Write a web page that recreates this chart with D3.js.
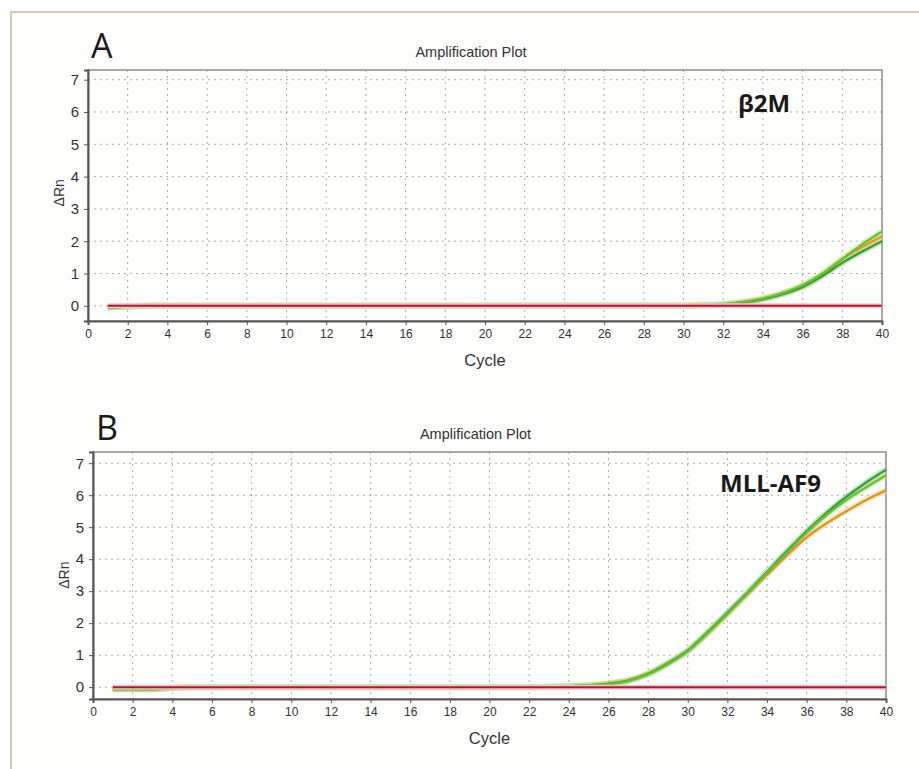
<!DOCTYPE html>
<html>
<head>
<meta charset="utf-8">
<script src="https://cdn.jsdelivr.net/npm/d3@7"></script>
<style>
  body { margin: 0; background: #fff; }
  .tick text { font-family: "Liberation Sans", Arial, sans-serif; fill: #333; }
</style>
</head>
<body>
<div id="graph"></div>
<script>
const cycles = d3.range(1, 41);
const xTicks = d3.range(0, 41, 2);
const yTicks = [0, 1, 2, 3, 4, 5, 6, 7];

// panel A, b2M
const a_green1 = [-0.05,-0.02,0,0,0,0,0,0,0,0, 0,0,0,0,0,0,0,0,0,0, 0,0,0,0,0,0,0,0,0,0, 0.01,0.05,0.12,0.23,0.40,0.64,1.00,1.45,1.90,2.30];
const a_orange = [-0.05,-0.02,0,0,0,0,0,0,0,0, 0,0,0,0,0,0,0,0,0,0.01, 0.01,0.01,0.01,0.01,0.01,0.01,0.01,0.01,0.01,0.02, 0.03,0.05,0.12,0.22,0.38,0.62,0.98,1.45,1.82,2.15];
const a_green2 = [-0.05,-0.02,0,0,0,0,0,0,0,0, 0,0,0,0,0,0,0,0,0,0, 0,0,0,0,0,0,0,0,0,0, 0.01,0.04,0.10,0.20,0.36,0.58,0.92,1.33,1.68,2.00];

// panel B, MLL-AF9
const b_green1 = [-0.06,-0.06,-0.06,-0.02,0,0,0,0,0,0, 0,0,0,0,0,0,0,0,0,0, 0,0,0.01,0.02,0.05,0.10,0.20,0.42,0.75,1.15, 1.72,2.33,2.95,3.60,4.25,4.88,5.45,5.95,6.40,6.80];
const b_green2 = [-0.06,-0.06,-0.06,-0.02,0,0,0,0,0,0, 0,0,0,0,0,0,0,0,0,0, 0,0,0.01,0.02,0.05,0.10,0.19,0.40,0.72,1.12, 1.68,2.30,2.92,3.57,4.20,4.83,5.38,5.85,6.25,6.62];
const b_orange = [-0.07,-0.07,-0.07,-0.03,0,0,0,0,0,0, 0,0,0,0,0,0,0,0,0,0, 0,0,0.01,0.03,0.06,0.12,0.22,0.42,0.75,1.13, 1.68,2.28,2.90,3.52,4.12,4.68,5.12,5.50,5.85,6.15];

const threshold = 0;

const width = 919, height = 769;
const font = '"Liberation Sans", Arial, sans-serif';

let svg = d3.select("#graph").append("svg")
  .attr("width", width)
  .attr("height", height);

// outer frame
svg.append("rect")
  .attr("x", 11).attr("y", 12)
  .attr("width", width + 10).attr("height", height + 10)
  .attr("fill", "#fefefd")
  .attr("stroke", "#cdb899")
  .attr("stroke-width", 1.5);

function drawPanel(p) {
  let x = d3.scaleLinear().domain([0, 40]).range([p.left, p.right]);
  let y = d3.scaleLinear().domain(p.ydom).range([p.bottom, p.top]);

  // grid
  let grid = svg.append("g");
  grid.selectAll(".vg").data(xTicks.slice(1, -1)).enter().append("line")
    .attr("x1", d => x(d)).attr("x2", d => x(d))
    .attr("y1", p.top).attr("y2", p.bottom)
    .attr("stroke", "#aaa").attr("stroke-dasharray", "2,4");
  grid.selectAll(".hg").data(yTicks).enter().append("line")
    .attr("x1", p.left).attr("x2", p.right)
    .attr("y1", d => y(d)).attr("y2", d => y(d))
    .attr("stroke", "#aaa").attr("stroke-dasharray", "2,4");

  // plot box
  svg.append("rect")
    .attr("x", p.left).attr("y", p.top)
    .attr("width", p.right - p.left).attr("height", p.bottom - p.top)
    .attr("fill", "none").attr("stroke", "#8a8a8a").attr("stroke-width", 1.5);

  // axes
  let xa = svg.append("g")
    .attr("transform", `translate(0,${p.bottom})`)
    .call(d3.axisBottom(x).tickValues(xTicks).tickSize(4).tickPadding(4));
  let ya = svg.append("g")
    .attr("transform", `translate(${p.left},0)`)
    .call(d3.axisLeft(y).tickValues(yTicks).tickSize(4).tickPadding(5));
  [xa, ya].forEach(a => {
    a.select(".domain").attr("stroke", "#555").attr("stroke-width", 2);
    a.selectAll(".tick line").attr("stroke", "#555");
  });
  xa.selectAll("text").attr("font-size", 12);
  ya.selectAll("text").attr("font-size", 15);

  // curves
  let line = d3.line()
    .x((d, i) => x(cycles[i]))
    .y(d => y(d))
    .curve(d3.curveMonotoneX);
  p.series.forEach(s => {
    svg.append("path").datum(s.values)
      .attr("d", line).attr("fill", "none")
      .attr("stroke", s.halo).attr("stroke-width", 6).attr("opacity", 0.55);
  });
  p.series.forEach(s => {
    svg.append("path").datum(s.values)
      .attr("d", line).attr("fill", "none")
      .attr("stroke", s.color).attr("stroke-width", 2.4);
  });

  // threshold line
  svg.append("line")
    .attr("x1", x(1)).attr("x2", x(40))
    .attr("y1", y(threshold)).attr("y2", y(threshold))
    .attr("stroke", "#f3c4c8").attr("stroke-width", 5);
  svg.append("line")
    .attr("x1", x(1)).attr("x2", x(40))
    .attr("y1", y(threshold)).attr("y2", y(threshold))
    .attr("stroke", "#9e2236").attr("stroke-width", 2);

  // labels
  svg.append("text")
    .attr("x", (p.left + p.right) / 2 - 14).attr("y", p.top - 13)
    .attr("text-anchor", "middle")
    .attr("font-family", font).attr("font-size", 14.5).attr("fill", "#333")
    .text("Amplification Plot");
  svg.append("text")
    .attr("x", (p.left + p.right) / 2).attr("y", p.bottom + 45)
    .attr("text-anchor", "middle")
    .attr("font-family", font).attr("font-size", 16.5).attr("fill", "#333")
    .text("Cycle");
  svg.append("text")
    .attr("transform", `translate(${p.left - 24},${y(3.5)}) rotate(-90)`)
    .attr("text-anchor", "middle")
    .attr("font-family", font).attr("font-size", 14).attr("fill", "#333")
    .text("ΔRn");
  svg.append("text")
    .attr("x", p.left + 3).attr("y", p.top - 12)
    .attr("font-family", '"Open Sans", sans-serif').attr("font-size", 34).attr("fill", "#1a1a1a")
    .text(p.letter);
  svg.append("text")
    .attr("x", p.geneX).attr("y", y(p.geneY))
    .attr("font-family", '"Open Sans", sans-serif').attr("font-weight", "bold")
    .attr("font-size", 24).attr("fill", "#1a1a1a")
    .text(p.gene);
}

drawPanel({
  left: 88, right: 882, top: 70, bottom: 321, ydom: [-0.47, 7.3],
  letter: "A", gene: "β2M", geneX: 738, geneY: 6.0,
  series: [
    {values: a_orange, color: "#e2a024", halo: "#f3d58f"},
    {values: a_green2, color: "#3f9a35", halo: "#9fd68a"},
    {values: a_green1, color: "#6cbf35", halo: "#b9e39a"}
  ]
});

drawPanel({
  left: 93, right: 886, top: 452, bottom: 699, ydom: [-0.37, 7.35],
  letter: "B", gene: "MLL-AF9", geneX: 720, geneY: 6.1,
  series: [
    {values: b_orange, color: "#d9952a", halo: "#f3d58f"},
    {values: b_green1, color: "#3d9b4a", halo: "#9fd68a"},
    {values: b_green2, color: "#6cbf35", halo: "#b9e39a"}
  ]
});
</script>
</body>
</html>
